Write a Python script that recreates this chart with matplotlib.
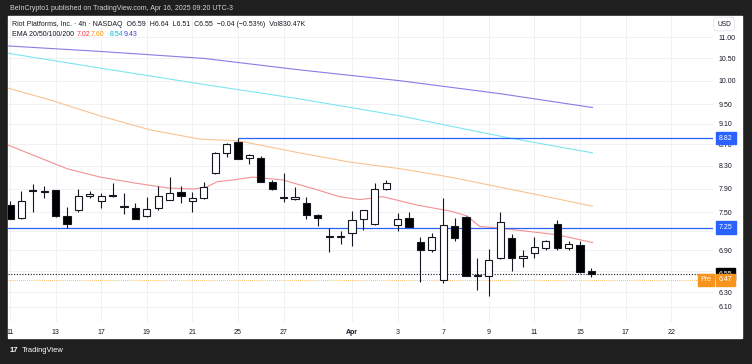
import matplotlib.pyplot as plt
from matplotlib.patches import Rectangle
from matplotlib.ticker import FixedLocator, FixedFormatter, NullLocator
import matplotlib.transforms as mtransforms

plt.rcParams['font.family'] = ['Liberation Sans', 'DejaVu Sans']

# 4h candles, RIOT, Mar 11 -> Apr 15 2025 (2 bars per trading day)
opens = [7.62, 7.40, 7.87, 7.85, 7.87, 7.44, 7.54, 7.77, 7.69, 7.79,
         7.60, 7.57, 7.44, 7.57, 7.70, 7.84, 7.68, 7.73, 8.18, 8.54,
         8.75, 8.44, 8.44, 8.02, 7.75, 7.72, 7.65, 7.46, 7.12, 7.11,
         7.16, 7.39, 7.31, 7.89, 7.29, 7.40, 7.03, 6.90, 6.47, 7.28,
         7.43, 6.54, 6.52, 6.78, 7.09, 6.78, 6.86, 6.93, 7.31, 6.94,
         6.98, 6.59]
highs = [7.68, 7.86, 7.98, 7.94, 7.88, 7.59, 7.89, 7.85, 7.83, 8.00,
         7.82, 7.65, 7.75, 7.94, 8.11, 7.94, 7.84, 8.01, 8.56, 8.72,
         8.82, 8.51, 8.48, 8.05, 8.17, 7.92, 7.75, 7.47, 7.25, 7.20,
         7.52, 7.54, 7.99, 8.05, 7.48, 7.50, 7.11, 7.16, 7.73, 7.40,
         7.44, 6.78, 6.92, 7.50, 7.15, 6.90, 7.10, 7.06, 7.38, 7.05,
         7.05, 6.64]
lows = [7.39, 7.39, 7.50, 7.73, 7.42, 7.24, 7.50, 7.74, 7.57, 7.75,
        7.47, 7.39, 7.43, 7.53, 7.70, 7.66, 7.50, 7.72, 8.16, 8.47,
        8.42, 8.34, 8.01, 7.87, 7.67, 7.71, 7.39, 7.28, 6.88, 6.99,
        6.97, 7.22, 7.30, 7.88, 7.20, 7.26, 6.44, 6.88, 6.43, 7.04,
        6.53, 6.33, 6.24, 6.77, 6.60, 6.66, 6.78, 6.91, 6.90, 6.91,
        6.57, 6.51]
closes = [7.39, 7.69, 7.85, 7.84, 7.44, 7.31, 7.78, 7.81, 7.78, 7.77,
          7.58, 7.39, 7.56, 7.78, 7.83, 7.77, 7.73, 7.93, 8.54, 8.70,
          8.43, 8.50, 8.02, 7.89, 7.73, 7.76, 7.45, 7.40, 7.11, 7.12,
          7.38, 7.53, 7.89, 8.00, 7.39, 7.27, 6.91, 7.11, 7.29, 7.09,
          6.53, 6.53, 6.76, 7.34, 6.78, 6.81, 6.95, 7.04, 6.93, 6.99,
          6.58, 6.55]

# EMA readings (bar index, price)
ema20_x = [-0.2, 2.0, 5.0, 7.9, 10.8, 13.8, 16.1, 17.3, 18.2, 19.6, 21.3, 23.9,
           26.9, 28.9, 30.7, 32.7, 35.7, 38.6, 40.1, 41.2, 42.7, 45.6, 48.0, 51.1]
ema20_y = [8.69, 8.50, 8.25, 8.10, 8.00, 7.91, 7.89, 7.93, 8.02, 8.05, 8.10, 8.05,
           7.88, 7.76, 7.71, 7.76, 7.62, 7.52, 7.44, 7.27, 7.25, 7.19, 7.14, 7.02]
ema50_x = [-0.2, 3.5, 7.9, 12.3, 16.7, 20.0, 25.4, 29.8, 34.2, 38.6, 45.6, 51.1]
ema50_y = [9.84, 9.59, 9.26, 8.98, 8.80, 8.77, 8.54, 8.37, 8.25, 8.10, 7.82, 7.60]
ema100_x = [-0.2, 7.9, 16.7, 25.4, 34.2, 43.4, 51.1]
ema100_y = [10.62, 10.28, 9.93, 9.61, 9.26, 8.84, 8.54]
ema200_x = [-0.2, 8.0, 17.0, 25.4, 34.2, 43.0, 51.1]
ema200_y = [10.79, 10.66, 10.50, 10.24, 10.00, 9.72, 9.43]

date_pos = [0, 4, 8, 12, 16, 20, 24, 30, 34, 38, 42, 46, 50, 54, 58]
date_lbl = ['11', '13', '17', '19', '21', '25', '27', 'Apr', '3', '7', '9',
            '11', '15', '17', '22']
price_ticks = [6.10, 6.30, 6.60, 6.90, 7.20, 7.50, 7.90, 8.30, 8.70, 9.10,
               9.50, 10.00, 10.50, 11.00]
# labels hidden behind the 6.55 / 7.25 tags
price_lbl = ['' if v in (6.60, 7.20) else '%.2f' % v for v in price_ticks]

W, H = 752, 364
dark = '#1f1f1f'
fig = plt.figure(figsize=(W / 100, H / 100), dpi=100, facecolor=dark)
fig.patches.append(Rectangle((8 / W, 1 - 338 / H), 734 / W, 322 / H,
                             transform=fig.transFigure, color='white', zorder=-5))

ax = fig.add_axes([8 / W, 1 - 322 / H, 705 / W, 306 / H])
ax.set_zorder(2)
ax.set_facecolor('white')
ax.set_yscale('log')
ax.set_xlim(-0.175, 61.67)
ax.set_ylim(5.90, 11.52)
for s in ax.spines.values():
    s.set_visible(False)

ax.yaxis.tick_right()
ax.yaxis.set_major_locator(FixedLocator(price_ticks))
ax.yaxis.set_major_formatter(FixedFormatter(price_lbl))
ax.yaxis.set_minor_locator(NullLocator())
ax.xaxis.set_major_locator(FixedLocator(date_pos))
ax.xaxis.set_major_formatter(FixedFormatter(date_lbl))
ax.tick_params(axis='both', length=0, labelsize=5.0, colors='#131722')
ax.tick_params(axis='y', pad=4)
ax.tick_params(axis='x', pad=5)
for t in ax.get_xticklabels():
    if t.get_text() == 'Apr':
        t.set_fontweight('bold')
ax.grid(True, color='#f0f1f3', linewidth=0.7)
ax.set_axisbelow(True)

# EMAs
ax.plot(ema200_x, ema200_y, color='#7b6fe0', lw=0.8, alpha=0.9)
ax.plot(ema100_x, ema100_y, color='#6fe3ef', lw=0.8, alpha=0.9)
ax.plot(ema50_x, ema50_y, color='#f8bd84', lw=0.8, alpha=0.9)
ax.plot(ema20_x, ema20_y, color='#f08686', lw=0.8, alpha=0.9)

# horizontal levels
ax.axhline(7.25, color='#2962ff', lw=0.9, zorder=2)
ax.hlines(8.82, 20, 61.67, color='#2962ff', lw=0.9, zorder=2)
ax.axhline(6.55, color='#131722', lw=0.8, ls=(0, (1, 1.5)), zorder=2)
ax.axhline(6.47, color='#f5a623', lw=0.6, ls=(0, (1, 1.5)), zorder=2)

# candles
for i in range(len(opens)):
    o, h, l, c = opens[i], highs[i], lows[i], closes[i]
    ax.vlines(i, l, h, color='#131722', lw=0.8, zorder=3)
    lo = min(o, c)
    hgt = max(abs(c - o), 0.012)
    fc = '#000000' if c < o else 'white'
    ax.bar(i, hgt, bottom=lo, width=0.62, color=fc, edgecolor='#131722',
           linewidth=0.8, zorder=4)

# price labels on the scale
tr = mtransforms.blended_transform_factory(ax.transAxes, ax.transData)
def tag(y, txt, bg, x=1.0085):
    ax.text(x, y, txt, transform=tr, ha='left', va='center', fontsize=5.0,
            color='white', clip_on=False, zorder=10,
            bbox=dict(boxstyle='square,pad=0.4', fc=bg, ec=bg))
tag(8.82, '8.82', '#2962ff')
tag(7.25, '7.25', '#2962ff')
tag(6.55, '6.55', '#000000')
tag(6.47, '6.47', '#f7941d')
ax.text(0.9825, 6.47, 'Pre', transform=tr, ha='left', va='center', fontsize=5.0,
        color='white', clip_on=False, zorder=10,
        bbox=dict(boxstyle='square,pad=0.4', fc='#f7941d', ec='#f7941d'))

# header texts
fig.text(10 / W, 1 - 9 / H, 'BeInCrypto1 published on TradingView.com, Apr 16, 2025 09:20 UTC-3',
         color='#d6d6d6', fontsize=5.0, va='center')
fig.text(12 / W, 1 - 24.5 / H,
         'Riot Platforms, Inc. · 4h · NASDAQ  O6.59  H6.64  L6.51  C6.55  \u22120.04 (\u22120.53%)  Vol830.47K',
         color='#131722', fontsize=5.05, va='center', zorder=5)
fig.text(12 / W, 1 - 34 / H, 'EMA 20/50/100/200', color='#131722', fontsize=5.05, va='center', zorder=5)
for xp, txt, col in [(77, '7.02', '#f23645'), (91, '7.60', '#ff9800'),
                     (110, '8.54', '#00bcd4'), (124, '9.43', '#3f3fdd')]:
    fig.text(xp / W, 1 - 34 / H, txt, color=col, fontsize=5.05, va='center', zorder=5)
fig.text(724 / W, 1 - 24 / H, 'USD', color='#131722', fontsize=4.8, va='center', ha='center',
         zorder=5, bbox=dict(boxstyle='round,pad=0.5', fc='white', ec='#e0e3eb', lw=0.6))
fig.text(10 / W, 1 - 350 / H, '17', color='white', fontsize=5.5, fontweight='bold', va='center')
fig.text(22 / W, 1 - 350 / H, 'TradingView', color='white', fontsize=5.4, va='center')

fig.savefig('out.png', dpi=100, facecolor=dark)
